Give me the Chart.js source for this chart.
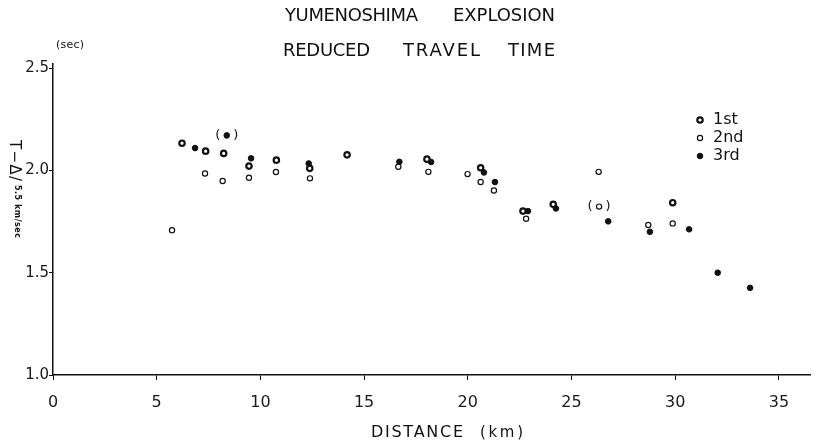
<!DOCTYPE html>
<html>
<head>
<meta charset="utf-8">
<script src="https://cdn.jsdelivr.net/npm/chart.js@4"></script>
<style>
html,body{margin:0;padding:0;background:#fff;}
#wrap{width:819px;height:445px;}
</style>
</head>
<body>
<div id="wrap"><canvas id="c" width="819" height="445"></canvas></div>
<script>
// ---- data (distance km, reduced travel time sec) ----
const firstX  = [6.22, 7.36, 8.23, 9.45, 10.77, 12.38, 14.18, 18.03, 20.62, 22.66, 24.12, 29.88];
const firstY  = [2.133, 2.094, 2.083, 2.021, 2.050, 2.010, 2.076, 2.055, 2.013, 1.801, 1.834, 1.842];

const secondX = [5.74, 7.33, 8.18, 9.45, 10.75, 12.39, 16.65, 18.10, 19.99, 20.62, 21.26, 22.81, 26.31, 26.33, 28.70, 29.88];
const secondY = [1.708, 1.985, 1.948, 1.964, 1.992, 1.961, 2.018, 1.993, 1.982, 1.943, 1.902, 1.764, 1.993, 1.823, 1.733, 1.741];
const secondBracketed = [false, false, false, false, false, false, false, false, false, false, false, false, false, true, false, false];

const thirdX  = [6.85, 8.38, 9.55, 12.33, 16.70, 18.23, 20.78, 21.31, 22.90, 24.25, 26.77, 28.78, 30.67, 32.05, 33.61];
const thirdY  = [2.109, 2.171, 2.059, 2.034, 2.042, 2.041, 1.990, 1.943, 1.801, 1.814, 1.751, 1.700, 1.712, 1.500, 1.426];
const thirdBracketed = [false, true, false, false, false, false, false, false, false, false, false, false, false, false, false];

const seriesNames = ["1st", "2nd", "3rd"];
const xTicks = [0, 5, 10, 15, 20, 25, 30, 35];
const yTicks = [1.0, 1.5, 2.0, 2.5];
const titleLine1 = ["YUMENOSHIMA", "EXPLOSION"];
const titleLine2 = ["REDUCED", "TRAVEL", "TIME"];
const xTitle = ["DISTANCE", "(km)"];
const yTitleMain = "T−Δ/";
const yTitleSub = "5.5 km/sec";
const yUnit = "(sec)";

const pts = (xs, ys) => xs.map((x, i) => ({x: x, y: ys[i]}));

const FONT = "'DejaVu Sans', sans-serif";
const INK = '#111';

const styles = [
  {pointRadius: 2.7, borderWidth: 2.2, backgroundColor: '#fff', borderColor: INK},
  {pointRadius: 2.6, borderWidth: 1.2, backgroundColor: '#fff', borderColor: INK},
  {pointRadius: 2.8, borderWidth: 1, backgroundColor: INK, borderColor: INK}
];

function fitWord(ctx, text, x1, x2, yc, font, baseline) {
  ctx.save();
  ctx.font = font;
  ctx.letterSpacing = '0px';
  const w = ctx.measureText(text).width;
  const n = text.length;
  const sp = n > 1 ? ((x2 - x1) - w) / (n - 1) : 0;
  ctx.letterSpacing = sp + 'px';
  ctx.textAlign = 'left';
  ctx.textBaseline = baseline || 'middle';
  ctx.fillStyle = INK;
  ctx.fillText(text, x1, yc);
  ctx.restore();
}

function drawMarker(ctx, k, x, y) {
  const s = styles[k];
  ctx.save();
  ctx.beginPath();
  ctx.arc(x, y, s.pointRadius, 0, Math.PI * 2);
  ctx.fillStyle = s.backgroundColor;
  ctx.fill();
  ctx.lineWidth = s.borderWidth;
  ctx.strokeStyle = s.borderColor;
  ctx.stroke();
  ctx.restore();
}

const decor = {
  id: 'decor',
  afterDraw(chart) {
    const ctx = chart.ctx;
    // titles
    fitWord(ctx, titleLine1[0], 285, 418, 16, '18px ' + FONT);
    fitWord(ctx, titleLine1[1], 453, 555, 16, '18px ' + FONT);
    fitWord(ctx, titleLine2[0], 283, 370, 51, '18px ' + FONT);
    fitWord(ctx, titleLine2[1], 403, 480, 51, '18px ' + FONT);
    fitWord(ctx, titleLine2[2], 508, 555, 51, '18px ' + FONT);
    // x title
    fitWord(ctx, xTitle[0], 371, 463, 433, '16px ' + FONT);
    fitWord(ctx, xTitle[1], 480, 523, 433, '15px ' + FONT);
    // (sec)
    fitWord(ctx, yUnit, 56, 84, 45, '11px ' + FONT);
    // y title rotated clockwise, glyph tops facing the axis
    ctx.save();
    ctx.translate(21, 0);
    ctx.rotate(Math.PI / 2);
    fitWord(ctx, yTitleMain, 140, 181, 0, '15px ' + FONT, 'top');
    fitWord(ctx, yTitleSub, 185, 238, 0, 'bold 8px ' + FONT, 'top');
    ctx.restore();
    // bracketed points
    const brk = [[1, secondBracketed], [2, thirdBracketed]];
    ctx.save();
    ctx.font = '13px ' + FONT;
    ctx.fillStyle = INK;
    ctx.textAlign = 'center';
    ctx.textBaseline = 'middle';
    brk.forEach(([di, flags]) => {
      const meta = chart.getDatasetMeta(di);
      flags.forEach((f, i) => {
        if (!f) return;
        const el = meta.data[i];
        ctx.fillText('(', el.x - 9, el.y);
        ctx.fillText(')', el.x + 9, el.y);
      });
    });
    ctx.restore();
    // legend
    const ly = [120, 138, 156];
    seriesNames.forEach((name, k) => {
      drawMarker(ctx, k, 700, ly[k]);
      ctx.save();
      ctx.font = '16px ' + FONT;
      ctx.fillStyle = INK;
      ctx.textBaseline = 'middle';
      ctx.fillText(name, 713, ly[k]);
      ctx.restore();
    });
  }
};

new Chart(document.getElementById('c'), {
  type: 'scatter',
  data: {
    datasets: [
      Object.assign({label: seriesNames[0], data: pts(firstX, firstY)}, styles[0]),
      Object.assign({label: seriesNames[1], data: pts(secondX, secondY)}, styles[1]),
      Object.assign({label: seriesNames[2], data: pts(thirdX, thirdY)}, styles[2])
    ]
  },
  options: {
    responsive: false,
    animation: false,
    layout: {padding: {top: 64, right: 9, left: 0, bottom: 0}},
    plugins: {legend: {display: false}, tooltip: {enabled: false}, title: {display: false}},
    elements: {point: {hoverRadius: 3}},
    scales: {
      x: {
        type: 'linear',
        min: 0, max: 36.5,
        afterFit(s) { s.height = 70; },
        afterBuildTicks(s) { s.ticks = xTicks.map(v => ({value: v})); },
        border: {display: true, color: INK, width: 1.5},
        grid: {display: true, drawOnChartArea: false, drawTicks: true, tickLength: 5, tickColor: INK, tickWidth: 1},
        ticks: {color: '#1a1a1a', font: {family: FONT, size: 16}, padding: 13, callback: v => String(v), maxRotation: 0}
      },
      y: {
        type: 'linear',
        min: 1.0, max: 2.52,
        afterFit(s) { s.width = 53; },
        afterBuildTicks(s) { s.ticks = yTicks.map(v => ({value: v})); },
        border: {display: true, color: INK, width: 1.5},
        grid: {display: true, drawOnChartArea: false, drawTicks: true, tickLength: 4, tickColor: INK, tickWidth: 1},
        ticks: {color: '#1a1a1a', font: {family: FONT, size: 15}, padding: 0, callback: v => Number(v).toFixed(1)}
      }
    }
  },
  plugins: [decor]
});
</script>
</body>
</html>
